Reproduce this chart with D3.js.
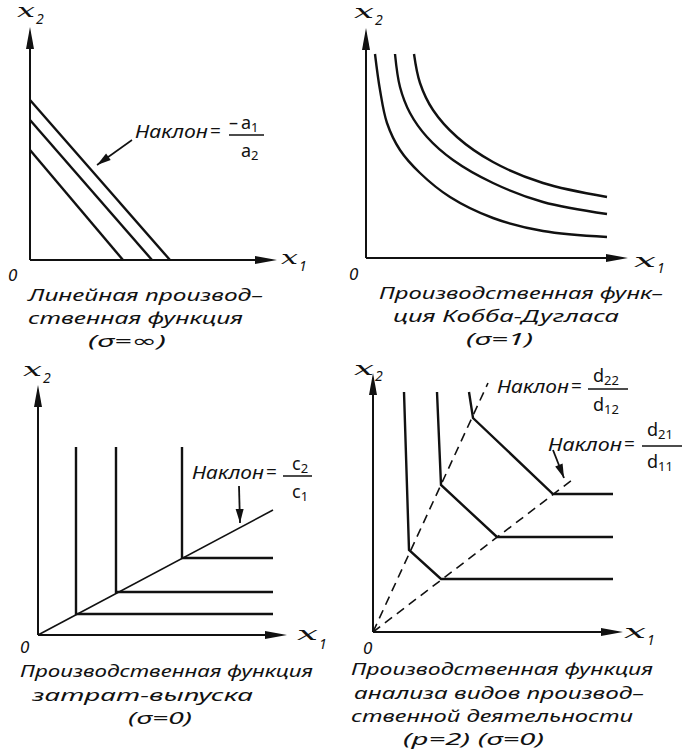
<!DOCTYPE html>
<html>
<head>
<meta charset="utf-8">
<script src="https://cdn.jsdelivr.net/npm/d3@7"></script>
<style>
  body { margin: 0; background: #fff; }
  text { fill: #111; }
</style>
</head>
<body>
<div id="chart"></div>
<script>

// Panel 1: linear isoquants (intercepts on x2 and on x1)
const linX2 = [110, 140, 160];
const linX1 = [93, 122, 140];
const linArrow = [[102, 120], [67, 95]];

// Panel 2: Cobb-Douglas isoquants
const cobbLow = [[9, 204], [14, 168], [21, 135], [34, 108], [54, 85], [84, 61], [127, 40], [177, 27], [241, 21]];
const cobbMid = [[29, 204], [34, 171], [44, 145], [61, 121], [87, 98], [127, 75], [177, 56], [241, 44]];
const cobbHigh = [[48, 204], [54, 175], [67, 148], [91, 121], [127, 96], [177, 75], [241, 61]];

// Panel 3: input-output (Leontief) corners, top of verticals, right end of horizontals
const leonCorners = [[38, 21], [78, 43], [144, 77]];
const leonTop = 188;
const leonRight = 235;
const leonRay = [[0, 0], [235, 125]];
const leonArrow = [[201, 149], [202, 112]];

// Panel 4: activity analysis isoquants (p = 2)
const actLow = [[31, 240], [36, 82], [68, 53], [240, 53]];
const actMid = [[64, 240], [68, 147], [124, 95], [240, 95]];
const actHigh = [[96, 240], [100, 214], [180, 138], [240, 138]];
const rayA = [[0, 0], [115, 249]];
const rayB = [[0, 0], [199, 152]];
const actArrow = [[180, 182], [191, 154]];

// Captions
const cap1 = ["Линейная производ–", "ственная функция", "(σ=∞)"];
const cap2 = ["Производственная функ–", "ция Кобба-Дугласа", "(σ=1)"];
const cap3 = ["Производственная функция", "затрат-выпуска", "(σ=0)"];
const cap4 = ["Производственная функция", "анализа видов производ–", "ственной деятельности", "(p=2) (σ=0)"];

const W = 682, H = 755;
const sansIt = "'Noto Sans', 'DejaVu Sans', sans-serif";
const serifIt = "'DejaVu Serif', 'Liberation Serif', serif";

const svg = d3.select("#chart").append("svg")
  .attr("width", W)
  .attr("height", H);

function makePanel(ox, oy, xLen, yLen) {
  const x = d3.scaleLinear().domain([0, xLen]).range([ox, ox + xLen]);
  const y = d3.scaleLinear().domain([0, yLen]).range([oy, oy - yLen]);
  const line = d3.line().x(d => x(d[0])).y(d => y(d[1]));
  return { x, y, line, xLen, yLen, g: svg.append("g") };
}

// filled arrow head with the tip at (tx,ty), pointing from (fx,fy)
function arrowHead(g, fx, fy, tx, ty, len, half) {
  const a = Math.atan2(ty - fy, tx - fx);
  const bx = tx - len * Math.cos(a), by = ty - len * Math.sin(a);
  const px = -Math.sin(a) * half, py = Math.cos(a) * half;
  g.append("path")
    .attr("d", `M${tx},${ty}L${bx + px},${by + py}L${bx - px},${by - py}Z`)
    .attr("fill", "#111");
}

function axes(p) {
  const g = p.g;
  g.append("line")
    .attr("x1", p.x(0)).attr("y1", p.y(0))
    .attr("x2", p.x(p.xLen) - 10).attr("y2", p.y(0))
    .attr("stroke", "#111").attr("stroke-width", 2);
  g.append("line")
    .attr("x1", p.x(0)).attr("y1", p.y(0))
    .attr("x2", p.x(0)).attr("y2", p.y(p.yLen) + 10)
    .attr("stroke", "#111").attr("stroke-width", 2);
  arrowHead(g, p.x(0), p.y(0), p.x(p.xLen), p.y(0), 22, 4);
  arrowHead(g, p.x(0), p.y(0), p.x(0), p.y(p.yLen), 22, 4);
}

// script x with a subscript; x0..x1 is the width of the x glyph
function axisLabel(g, x0, x1, base, sub, subBase) {
  g.append("text")
    .attr("x", x0).attr("y", base)
    .attr("textLength", x1 - x0)
    .attr("lengthAdjust", "spacingAndGlyphs")
    .style("font-family", serifIt).style("font-style", "italic")
    .style("font-size", "18px")
    .text("x");
  g.append("text")
    .attr("x", x1 + 1).attr("y", subBase)
    .style("font-family", sansIt).style("font-style", "italic")
    .style("font-size", "14px")
    .text(sub);
}

function zero(g, xx, yy) {
  g.append("text")
    .attr("x", xx).attr("y", yy)
    .style("font-family", sansIt).style("font-style", "italic")
    .style("font-size", "17px")
    .text("0");
}

function caption(g, lines, specs) {
  lines.forEach((t, i) => {
    const [x0, x1, base] = specs[i];
    g.append("text")
      .attr("x", x0).attr("y", base)
      .attr("textLength", x1 - x0)
      .attr("lengthAdjust", "spacingAndGlyphs")
      .style("font-family", sansIt).style("font-style", "italic")
      .style("font-size", "17px")
      .text(t);
  });
}

function word(g, x0, x1, base) {
  g.append("text")
    .attr("x", x0).attr("y", base)
    .attr("textLength", x1 - x0)
    .attr("lengthAdjust", "spacingAndGlyphs")
    .style("font-family", sansIt).style("font-style", "italic")
    .style("font-size", "19px")
    .text("Наклон");
  g.append("text")
    .attr("x", x1 + 2).attr("y", base)
    .style("font-family", sansIt)
    .style("font-size", "19px")
    .text("=");
}

function frac(g, x0, x1, barY, top, topSub, bottom, bottomSub, tx, topBase, botBase) {
  g.append("line")
    .attr("x1", x0).attr("x2", x1).attr("y1", barY).attr("y2", barY)
    .attr("stroke", "#111").attr("stroke-width", 1.5);
  [[top, topSub, topBase], [bottom, bottomSub, botBase]].forEach(([m, s, b]) => {
    const t = g.append("text")
      .attr("x", tx).attr("y", b)
      .style("font-family", sansIt)
      .style("font-size", "18px");
    t.append("tspan").text(m);
    t.append("tspan").attr("dy", 3).style("font-size", "13px").text(s);
  });
}

// ---------- Panel 1: linear ----------
const p1 = makePanel(30, 260, 247, 233);
axes(p1);
linX2.forEach((v, i) => {
  p1.g.append("path")
    .attr("d", p1.line([[0, v], [linX1[i], 0]]))
    .attr("fill", "none").attr("stroke", "#111").attr("stroke-width", 2.4);
});
p1.g.append("path")
  .attr("d", p1.line(linArrow))
  .attr("stroke", "#111").attr("stroke-width", 1.6);
arrowHead(p1.g, p1.x(linArrow[0][0]), p1.y(linArrow[0][1]), p1.x(linArrow[1][0]), p1.y(linArrow[1][1]), 14, 4);
axisLabel(p1.g, 17, 35, 17, "2", 24);
axisLabel(p1.g, 281, 298, 264, "1", 271);
zero(p1.g, 8, 281);
word(p1.g, 135, 208, 138);
p1.g.append("text").attr("x", 229).attr("y", 129)
  .style("font-family", sansIt).style("font-size", "18px").text("–");
frac(p1.g, 229, 264, 135, "a", "1", "a", "2", 241, 129, 157);
caption(p1.g, cap1, [[28, 263, 301], [28, 243, 324], [88, 166, 347]]);

// ---------- Panel 2: Cobb-Douglas ----------
const p2 = makePanel(366, 258, 262, 230);
axes(p2);
const smooth = d3.line().x(d => p2.x(d[0])).y(d => p2.y(d[1])).curve(d3.curveCatmullRom);
[cobbLow, cobbMid, cobbHigh].forEach(c => {
  p2.g.append("path")
    .attr("d", smooth(c))
    .attr("fill", "none").attr("stroke", "#111").attr("stroke-width", 2.4);
});
axisLabel(p2.g, 354, 374, 18, "2", 25);
axisLabel(p2.g, 634, 656, 267, "1", 273);
zero(p2.g, 349, 280);
caption(p2.g, cap2, [[379, 663, 299], [393, 619, 322], [466, 533, 345]]);

// ---------- Panel 3: input-output ----------
const p3 = makePanel(38, 635, 249, 250);
axes(p3);
p3.g.append("path")
  .attr("d", p3.line(leonRay))
  .attr("fill", "none").attr("stroke", "#111").attr("stroke-width", 1.6);
leonCorners.forEach(c => {
  p3.g.append("path")
    .attr("d", p3.line([[c[0], leonTop], c, [leonRight, c[1]]]))
    .attr("fill", "none").attr("stroke", "#111").attr("stroke-width", 2.4);
});
p3.g.append("path")
  .attr("d", p3.line(leonArrow))
  .attr("stroke", "#111").attr("stroke-width", 1.8);
arrowHead(p3.g, p3.x(leonArrow[0][0]), p3.y(leonArrow[0][1]), p3.x(leonArrow[1][0]), p3.y(leonArrow[1][1]), 14, 4);
axisLabel(p3.g, 23, 42, 376, "2", 383);
axisLabel(p3.g, 297, 318, 640, "1", 649);
zero(p3.g, 20, 653);
word(p3.g, 192, 264, 479);
frac(p3.g, 283, 312, 476, "c", "2", "c", "1", 292, 470, 498);
caption(p3.g, cap3, [[20, 313, 677], [32, 253, 701], [128, 192, 724]]);

// ---------- Panel 4: activity analysis ----------
const p4 = makePanel(373, 632, 250, 259);
axes(p4);
[rayA, rayB].forEach(r => {
  p4.g.append("path")
    .attr("d", p4.line(r))
    .attr("fill", "none").attr("stroke", "#111").attr("stroke-width", 1.6)
    .attr("stroke-dasharray", "9,6");
});
[actLow, actMid, actHigh].forEach(q => {
  p4.g.append("path")
    .attr("d", p4.line(q))
    .attr("fill", "none").attr("stroke", "#111").attr("stroke-width", 2.4);
});
p4.g.append("path")
  .attr("d", p4.line(actArrow))
  .attr("stroke", "#111").attr("stroke-width", 1.8);
arrowHead(p4.g, p4.x(actArrow[0][0]), p4.y(actArrow[0][1]), p4.x(actArrow[1][0]), p4.y(actArrow[1][1]), 14, 4);
axisLabel(p4.g, 354, 374, 375, "2", 381);
axisLabel(p4.g, 624, 646, 638, "1", 645);
zero(p4.g, 363, 654);
word(p4.g, 497, 569, 393);
frac(p4.g, 588, 628, 389, "d", "22", "d", "12", 593, 382, 411);
word(p4.g, 548, 622, 451);
frac(p4.g, 642, 690, 446, "d", "21", "d", "11", 647, 436, 468);
caption(p4.g, cap4, [[351, 653, 675], [354, 644, 699], [351, 633, 722], [403, 544, 745]]);
</script>
</body>
</html>
